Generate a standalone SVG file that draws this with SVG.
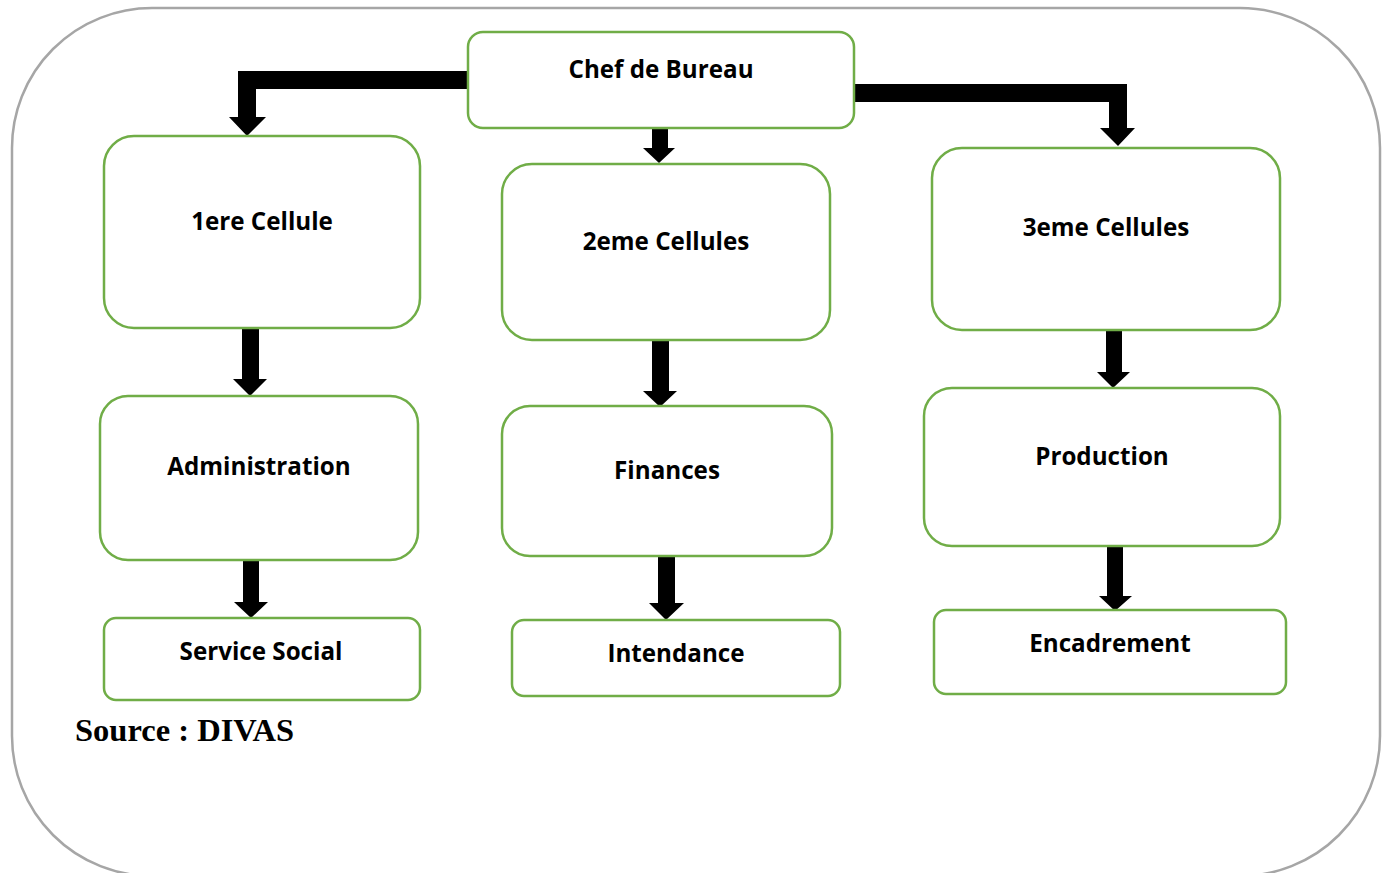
<svg xmlns="http://www.w3.org/2000/svg" width="1390" height="873" viewBox="0 0 1390 873">
<style>
.box{fill:#fff;stroke:#70AD47;stroke-width:2.5}
.lbl{font-family:"Open Sans","Noto Sans","DejaVu Sans",sans-serif;font-weight:bold;font-size:24.2px;fill:#000;text-anchor:middle}
.arr{fill:#000}
</style>
<rect x="12" y="8" width="1368" height="868" rx="140" ry="140" fill="#fff" stroke="#A6A6A6" stroke-width="2.5"/>
<g id="connectors">
<path class="arr" d="M468,71 L238,71 L238,117 L229,117 L247,136 L266,117 L256,117 L256,89 L468,89 Z"/>
<path class="arr" d="M854,84 L1127,84 L1127,128 L1135,128 L1118,146 L1100,128 L1109,128 L1109,102 L854,102 Z"/>
<path class="arr" d="M652,128 L668,128 L668,148 L675,148 L659,163 L643,148 L652,148 Z"/>
<path class="arr" d="M242,328 L259,328 L259,379 L267,379 L250,396 L233,379 L242,379 Z"/>
<path class="arr" d="M652,340 L669,340 L669,391 L677,391 L660,407 L643,391 L652,391 Z"/>
<path class="arr" d="M1106,330 L1122,330 L1122,372 L1130,372 L1113,388 L1097,372 L1106,372 Z"/>
<path class="arr" d="M243,560 L259,560 L259,602 L268,602 L251,618 L234,602 L243,602 Z"/>
<path class="arr" d="M658,553 L675,553 L675,603 L684,603 L666,620 L649,603 L658,603 Z"/>
<path class="arr" d="M1107,545 L1123,545 L1123,596 L1132,596 L1115,611 L1099,596 L1107,596 Z"/>
</g>
<g id="chef"><rect class="box" x="468" y="32" width="386" height="96" rx="15"/><text class="lbl" x="661" y="78">Chef de Bureau</text></g>
<g id="cellule1"><rect class="box" x="104" y="136" width="316" height="192" rx="30"/><text class="lbl" x="262" y="230">1ere Cellule</text></g>
<g id="cellule2"><rect class="box" x="502" y="164" width="328" height="176" rx="30"/><text class="lbl" x="666" y="250">2eme Cellules</text></g>
<g id="cellule3"><rect class="box" x="932" y="148" width="348" height="182" rx="30"/><text class="lbl" x="1106" y="236">3eme Cellules</text></g>
<g id="administration"><rect class="box" x="100" y="396" width="318" height="164" rx="28"/><text class="lbl" x="259" y="475">Administration</text></g>
<g id="finances"><rect class="box" x="502" y="406" width="330" height="150" rx="28"/><text class="lbl" x="667" y="479">Finances</text></g>
<g id="production"><rect class="box" x="924" y="388" width="356" height="158" rx="28"/><text class="lbl" x="1102" y="465">Production</text></g>
<g id="service-social"><rect class="box" x="104" y="618" width="316" height="82" rx="12"/><text class="lbl" x="261" y="660">Service Social</text></g>
<g id="intendance"><rect class="box" x="512" y="620" width="328" height="76" rx="12"/><text class="lbl" x="676" y="662">Intendance</text></g>
<g id="encadrement"><rect class="box" x="934" y="610" width="352" height="84" rx="12"/><text class="lbl" x="1110" y="652">Encadrement</text></g>
<text x="75" y="741" font-family="'Liberation Serif','Times New Roman',serif" font-weight="bold" font-size="32.5" fill="#000">Source : DIVAS</text>
</svg>
